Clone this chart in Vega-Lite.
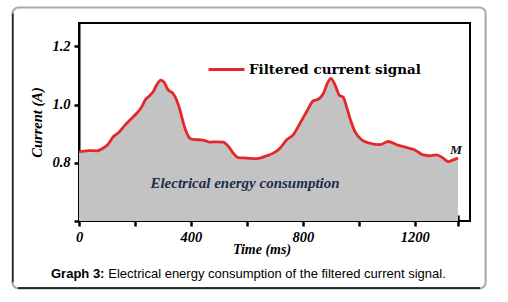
{
  "$schema": "https://vega.github.io/schema/vega-lite/v6.json",
  "width": 391,
  "height": 198,
  "autosize": {"type": "none"},
  "padding": {"left": 79, "top": 23, "right": 38, "bottom": 81},
  "background": "white",
  "config": {
    "view": {"stroke": "black", "strokeWidth": 2},
    "font": "Liberation Serif"
  },
  "datasets": {
    "signal": [
      {"t": 0, "current": 0.838}, {"t": 10, "current": 0.839}, {"t": 34, "current": 0.842},
      {"t": 63, "current": 0.841}, {"t": 86, "current": 0.850}, {"t": 105, "current": 0.865},
      {"t": 123, "current": 0.890}, {"t": 140, "current": 0.902}, {"t": 165, "current": 0.930},
      {"t": 182, "current": 0.947}, {"t": 206, "current": 0.970}, {"t": 224, "current": 0.992},
      {"t": 236, "current": 1.015}, {"t": 254, "current": 1.032}, {"t": 265, "current": 1.044},
      {"t": 277, "current": 1.067}, {"t": 293, "current": 1.084}, {"t": 305, "current": 1.075},
      {"t": 317, "current": 1.052}, {"t": 336, "current": 1.038}, {"t": 349, "current": 1.015},
      {"t": 361, "current": 0.981}, {"t": 373, "current": 0.936}, {"t": 385, "current": 0.902},
      {"t": 402, "current": 0.881}, {"t": 426, "current": 0.879}, {"t": 450, "current": 0.876},
      {"t": 467, "current": 0.871}, {"t": 493, "current": 0.872}, {"t": 515, "current": 0.871},
      {"t": 534, "current": 0.856}, {"t": 551, "current": 0.833}, {"t": 569, "current": 0.818},
      {"t": 599, "current": 0.816}, {"t": 635, "current": 0.814}, {"t": 671, "current": 0.824},
      {"t": 694, "current": 0.833}, {"t": 718, "current": 0.850}, {"t": 742, "current": 0.879},
      {"t": 765, "current": 0.896}, {"t": 790, "current": 0.936}, {"t": 813, "current": 0.975},
      {"t": 837, "current": 1.013}, {"t": 855, "current": 1.018}, {"t": 873, "current": 1.038},
      {"t": 890, "current": 1.078}, {"t": 900, "current": 1.090}, {"t": 915, "current": 1.067},
      {"t": 930, "current": 1.032}, {"t": 944, "current": 1.025}, {"t": 956, "current": 0.992},
      {"t": 968, "current": 0.953}, {"t": 986, "current": 0.907}, {"t": 1010, "current": 0.879},
      {"t": 1040, "current": 0.867}, {"t": 1075, "current": 0.862}, {"t": 1105, "current": 0.873},
      {"t": 1135, "current": 0.862}, {"t": 1171, "current": 0.852}, {"t": 1200, "current": 0.844},
      {"t": 1230, "current": 0.827}, {"t": 1254, "current": 0.824}, {"t": 1277, "current": 0.827},
      {"t": 1301, "current": 0.816}, {"t": 1319, "current": 0.804}, {"t": 1337, "current": 0.810},
      {"t": 1354, "current": 0.816}
    ],
    "notes": [
      {"t": 593, "current": 0.7305, "label": "Electrical energy consumption"}
    ],
    "endmark": [
      {"t": 1347, "current": 0.8438, "label": "M"}
    ],
    "captionBold": [
      {"t": -100.1, "current": 0.4045, "label": "Graph 3:"}
    ],
    "captionText": [
      {"t": 104.7, "current": 0.4045, "label": "Electrical energy consumption of the filtered current signal."}
    ],
    "frame": [
      {"t": -237.6, "t2": 1452.7, "current": 0.3682, "current2": 1.3332}
    ],
    "frameLeft": [
      {"t": -236.2, "current": 0.39, "current2": 1.313}
    ],
    "frameBottom": [
      {"t": -218, "t2": 1433, "current": 0.3699}
    ]
  },
  "encoding": {
    "x": {
      "field": "t", "type": "quantitative",
      "scale": {"domain": [0, 1397], "nice": false, "zero": false},
      "axis": {
        "title": "Time (ms)",
        "values": [0, 200, 400, 600, 800, 1000, 1200, 1354],
        "labelExpr": "datum.value % 400 == 0 ? datum.label : ''",
        "format": "d",
        "domain": false, "grid": false,
        "offset": -6,
        "tickSize": 11, "tickWidth": 2.5, "tickColor": "black",
        "labelPadding": 4, "labelFont": "Liberation Serif", "labelFontSize": 14.5,
        "labelFontWeight": "bold", "labelFontStyle": "italic", "labelColor": "black",
        "labelFlush": false,
        "titleFont": "Liberation Serif", "titleFontSize": 14, "titleFontWeight": "bold",
        "titleFontStyle": "italic", "titleColor": "black",
        "titleX": 182.5, "titleY": 38, "titleAlign": "center", "titleBaseline": "alphabetic"
      }
    },
    "y": {
      "field": "current", "type": "quantitative",
      "scale": {"domain": [0.6, 1.28], "nice": false, "zero": false},
      "axis": {
        "title": "Current (A)",
        "values": [0.6, 0.8, 1.0, 1.2],
        "labelExpr": "datum.value < 0.7 ? '' : format(datum.value, '.1f')",
        "domainColor": "black", "domainWidth": 2, "grid": false,
        "tickSize": 5, "tickWidth": 2.5, "tickColor": "black",
        "labelPadding": 4, "labelFont": "Liberation Serif", "labelFontSize": 14.5,
        "labelFontWeight": "bold", "labelFontStyle": "italic", "labelColor": "black",
        "labelFlush": false,
        "titleFont": "Liberation Serif", "titleFontSize": 14.5, "titleFontWeight": "bold",
        "titleFontStyle": "italic", "titleColor": "black", "titlePadding": 7
      }
    }
  },
  "layer": [
    {
      "data": {"name": "signal"},
      "mark": {"type": "area", "fill": "#c3c3c3", "interpolate": "monotone"},
      "encoding": {
        "y2": {"datum": 0.6}
      }
    },
    {
      "data": {"name": "signal"},
      "mark": {"type": "line", "strokeWidth": 2.8, "interpolate": "monotone"},
      "encoding": {
        "color": {
          "datum": "Filtered current signal",
          "scale": {"range": ["#e5272b"]},
          "legend": {
            "title": null, "orient": "none", "legendX": 128, "legendY": 27, "padding": 0,
            "symbolType": "stroke", "symbolSize": 1296, "symbolStrokeWidth": 3,
            "labelFont": "DejaVu Serif", "labelFontSize": 13.5, "labelFontWeight": "bold",
            "labelColor": "black", "labelOffset": 3, "labelLimit": 300
          }
        }
      }
    },
    {
      "data": {"name": "notes"},
      "mark": {"type": "text", "font": "Liberation Serif", "fontWeight": "bold", "fontStyle": "italic", "fontSize": 15, "color": "#1d2b4b", "baseline": "middle", "align": "center", "clip": false},
      "encoding": {
        "text": {"field": "label"}
      }
    },
    {
      "data": {"name": "endmark"},
      "mark": {"type": "text", "font": "Liberation Serif", "fontWeight": "bold", "fontStyle": "italic", "fontSize": 13.5, "color": "#111111", "baseline": "middle", "align": "center", "clip": false},
      "encoding": {
        "text": {"field": "label"}
      }
    },
    {
      "data": {"name": "captionBold"},
      "mark": {"type": "text", "font": "Liberation Sans", "fontSize": 13, "fontWeight": "bold", "baseline": "alphabetic", "align": "left", "color": "black", "clip": false},
      "encoding": {
        "text": {"field": "label"}
      }
    },
    {
      "data": {"name": "captionText"},
      "mark": {"type": "text", "font": "Liberation Sans", "fontSize": 13, "fontWeight": "normal", "baseline": "alphabetic", "align": "left", "color": "black", "clip": false},
      "encoding": {
        "text": {"field": "label"}
      }
    },
    {
      "data": {"name": "frame"},
      "mark": {"type": "rect", "fill": "transparent", "stroke": "#a8a8a8", "strokeWidth": 2, "cornerRadius": 6, "clip": false},
      "encoding": {
        "x2": {"field": "t2"},
        "y2": {"field": "current2"}
      }
    },
    {
      "data": {"name": "frameLeft"},
      "mark": {"type": "rule", "color": "black", "strokeWidth": 1.3, "clip": false},
      "encoding": {
        "y2": {"field": "current2"}
      }
    },
    {
      "data": {"name": "frameBottom"},
      "mark": {"type": "rule", "color": "black", "strokeWidth": 1.3, "clip": false},
      "encoding": {
        "x2": {"field": "t2"}
      }
    }
  ]
}
